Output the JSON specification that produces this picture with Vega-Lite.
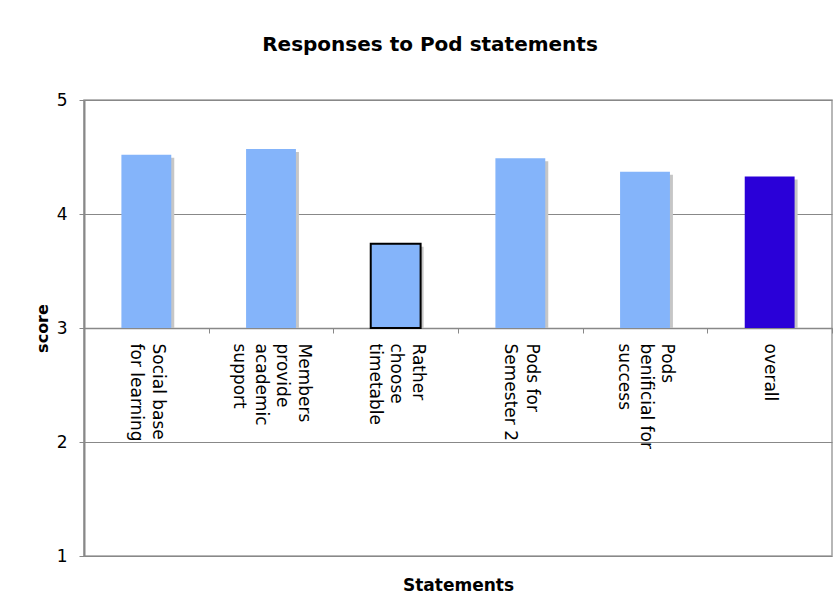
{
  "$schema": "https://vega.github.io/schema/vega-lite/v6.json",
  "width": 748,
  "height": 456,
  "autosize": "none",
  "padding": {"left": 84, "top": 100, "right": 1, "bottom": 51},
  "background": "white",
  "title": {
    "text": "Responses to Pod statements",
    "font": "DejaVu Sans",
    "fontSize": 20,
    "fontWeight": "bold",
    "color": "#000000",
    "anchor": "middle",
    "dx": -28,
    "baseline": "alphabetic",
    "offset": 20
  },
  "config": {
    "view": {"stroke": "#a0a0a0", "strokeWidth": 1.5}
  },
  "data": {
    "values": [
      {"statement": "Social base|for learning", "score": 4.52, "kind": "item", "edge": false},
      {"statement": "Members|provide|academic|support", "score": 4.57, "kind": "item", "edge": false},
      {"statement": " Rather|choose|timetable", "score": 3.74, "kind": "item", "edge": true},
      {"statement": "Pods for|Semester 2", "score": 4.49, "kind": "item", "edge": false},
      {"statement": "Pods|benificial for|success", "score": 4.37, "kind": "item", "edge": false},
      {"statement": "overall", "score": 4.33, "kind": "overall", "edge": false}
    ]
  },
  "encoding": {
    "x": {
      "field": "statement",
      "type": "nominal",
      "sort": null,
      "scale": {"paddingInner": 0, "paddingOuter": 0},
      "axis": {
        "title": "Statements",
        "orient": "bottom",
        "offset": -228,
        "tickBand": "extent",
        "domainColor": "#888888",
        "domainWidth": 1.5,
        "tickColor": "#888888",
        "tickSize": 5,
        "labelAngle": 90,
        "labelAlign": "left",
        "labelBaseline": "middle",
        "labelFont": "DejaVu Sans",
        "labelFontSize": 17,
        "labelColor": "#000000",
        "labelPadding": 10,
        "labelLimit": 0,
        "labelLineHeight": 21.5,
        "labelExpr": "split(datum.label, '|')",
        "labelOffset": {"expr": "(length(split(datum.value, '|')) - 1) * 10.75"},
        "titleFont": "DejaVu Sans",
        "titleFontSize": 17,
        "titleFontWeight": "bold",
        "titleColor": "#000000",
        "titleY": 257,
        "titleBaseline": "middle",
        "grid": false
      }
    },
    "y": {
      "field": "score",
      "type": "quantitative",
      "scale": {"domain": [1, 5], "nice": false, "zero": false},
      "axis": {
        "title": "score",
        "values": [1, 2, 3, 4, 5],
        "grid": true,
        "gridColor": "#888888",
        "gridWidth": 1,
        "domainColor": "#888888",
        "domainWidth": 2,
        "tickColor": "#888888",
        "tickSize": 5,
        "labelFont": "DejaVu Sans",
        "labelFontSize": 17,
        "labelColor": "#000000",
        "labelPadding": 12,
        "titleFont": "DejaVu Sans",
        "titleFontSize": 16,
        "titleFontWeight": "bold",
        "titleColor": "#000000",
        "titleX": -42,
        "titleBaseline": "middle"
      }
    },
    "y2": {"datum": 3}
  },
  "layer": [
    {
      "mark": {"type": "bar", "width": {"band": 0.4}, "color": "#c6c6c6", "xOffset": 3, "yOffset": 3}
    },
    {
      "mark": {"type": "bar", "width": {"band": 0.4}, "strokeWidth": 2},
      "encoding": {
        "color": {
          "field": "kind",
          "type": "nominal",
          "scale": {"domain": ["item", "overall"], "range": ["#84B4FA", "#2A00D8"]},
          "legend": null
        },
        "stroke": {"condition": {"test": "datum.edge", "value": "#000000"}, "value": null}
      }
    }
  ]
}
